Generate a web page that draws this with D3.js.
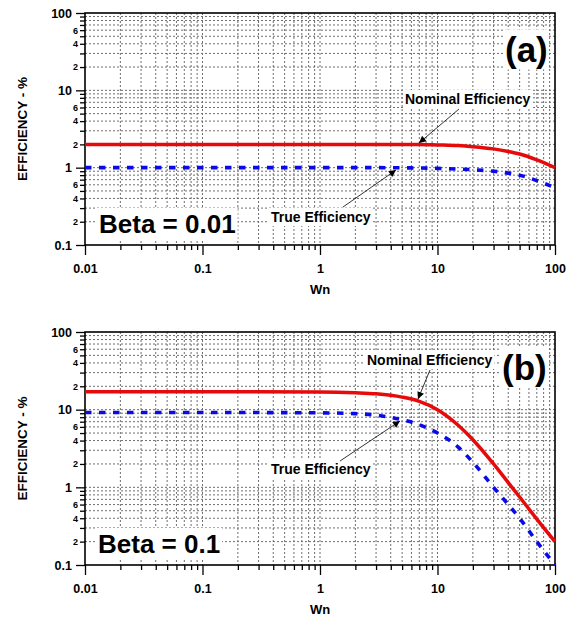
<!DOCTYPE html>
<html>
<head>
<meta charset="utf-8">
<script src="https://cdn.jsdelivr.net/npm/d3@7"></script>
<style>
  html, body { margin: 0; padding: 0; background: #fff; }
  svg { display: block; font-family: "Liberation Sans", Arial, sans-serif; }
</style>
</head>
<body>
<svg id="chart" width="578" height="620"></svg>
<script>
// Shared frequency grid (Wn)
const wn = [0.01, 0.1, 1, 2, 3, 5, 7, 10, 15, 20, 30, 40, 50, 70, 100];

// Panel (a): Beta = 0.01
const nominalA = [2.0, 2.0, 2.0, 2.0, 2.0, 2.0, 2.0, 1.97, 1.93, 1.87, 1.75, 1.62, 1.5, 1.26, 1.0];
const trueA    = [1.0, 1.0, 1.0, 1.0, 1.0, 0.995, 0.99, 0.98, 0.96, 0.94, 0.9, 0.85, 0.8, 0.68, 0.55];

// Panel (b): Beta = 0.1
const nominalB = [17.0, 17.0, 16.9, 16.5, 16.0, 14.5, 12.8, 10.0, 6.3, 4.1, 2.0, 1.15, 0.75, 0.39, 0.2];
const trueB    = [9.2, 9.2, 9.1, 8.9, 8.5, 7.4, 6.4, 5.0, 3.3, 2.1, 1.0, 0.6, 0.4, 0.2, 0.1];

// Axis ticks
const xMajor = [0.01, 0.1, 1, 10, 100];
const xMajorLabels = ["0.01", "0.1", "1", "10", "100"];
const yMajor = [0.1, 1, 10, 100];
const yMajorLabels = ["0.1", "1", "10", "100"];
const minorSteps = [2, 3, 4, 5, 6, 7, 8, 9];
const labelledMinor = [2, 4, 6];

const panelLetters = ["(a)", "(b)"];
const betaLabels = ["Beta = 0.01", "Beta = 0.1"];
const xTitle = "Wn";
const yTitle = "EFFICIENCY - %";
const nominalText = "Nominal Efficiency";
const trueText = "True Efficiency";

const svg = d3.select("#chart");

const defs = svg.append("defs");
defs.append("marker")
  .attr("id", "arrowhead")
  .attr("viewBox", "0 0 10 10")
  .attr("refX", 10).attr("refY", 5)
  .attr("markerUnits", "userSpaceOnUse")
  .attr("markerWidth", 9).attr("markerHeight", 7)
  .attr("orient", "auto")
  .append("path")
  .attr("d", "M0,0 L10,5 L0,10 Z")
  .attr("fill", "#000");

const left = 85, right = 555;

const panels = [
  {
    top: 13, bottom: 245, nominal: nominalA, trueVals: trueA,
    letter: panelLetters[0], beta: betaLabels[0],
    nomLabel: { x: 405, y: 104 }, nomArrow: [[459, 109], [419, 143]],
    trueLabel: { x: 271, y: 222 }, trueArrow: [[343, 207], [396, 170]],
    betaPos: { x: 99, y: 233 }, letterPos: { x: 505, y: 62 }
  },
  {
    top: 332, bottom: 565, nominal: nominalB, trueVals: trueB,
    letter: panelLetters[1], beta: betaLabels[1],
    nomLabel: { x: 367, y: 365 }, nomArrow: [[430, 370], [418, 399]],
    trueLabel: { x: 271, y: 474 }, trueArrow: [[340, 461], [400, 421]],
    betaPos: { x: 98, y: 553 }, letterPos: { x: 502, y: 380 }
  }
];

function minorValues(lo, hi) {
  const out = [];
  for (let d = lo; d < hi; d *= 10) {
    minorSteps.forEach(s => out.push(+(s * d).toPrecision(3)));
  }
  return out;
}

const xMinor = minorValues(0.01, 100);
const yMinor = minorValues(0.1, 100);

function labelWithBackground(g, x, y, text, size, pad) {
  const grp = g.append("g");
  const rect = grp.append("rect").attr("fill", "#fff");
  const t = grp.append("text")
    .attr("x", x).attr("y", y)
    .attr("font-size", size).attr("font-weight", "bold")
    .attr("fill", "#000")
    .text(text);
  const bb = t.node().getBBox();
  rect.attr("x", bb.x - pad).attr("y", bb.y - pad * 0.5)
    .attr("width", bb.width + pad * 2).attr("height", bb.height + pad);
  return grp;
}

panels.forEach(p => {
  const x = d3.scaleLog().domain([0.01, 100]).range([left, right]);
  const y = d3.scaleLog().domain([0.1, 100]).range([p.bottom, p.top]);
  const g = svg.append("g");

  // Dotted grid at every major and minor decade step
  const grid = g.append("g").attr("stroke", "#6e6e6e").attr("stroke-width", 1)
    .attr("stroke-dasharray", "2,2").attr("fill", "none");
  xMinor.concat(xMajor.slice(1, -1)).forEach(v => {
    grid.append("line").attr("x1", x(v)).attr("x2", x(v))
      .attr("y1", p.top).attr("y2", p.bottom);
  });
  yMinor.concat(yMajor.slice(1, -1)).forEach(v => {
    grid.append("line").attr("x1", left).attr("x2", right)
      .attr("y1", y(v)).attr("y2", y(v));
  });

  // Bottom axis: long major ticks with labels, short minor ticks
  const xMajAxis = d3.axisBottom(x).tickValues(xMajor)
    .tickFormat((d, i) => xMajorLabels[i]).tickSize(10).tickPadding(9);
  const xMinAxis = d3.axisBottom(x).tickValues(xMinor)
    .tickFormat("").tickSize(5);
  [xMinAxis, xMajAxis].forEach(ax => {
    const a = g.append("g").attr("transform", `translate(0,${p.bottom})`).call(ax);
    a.select(".domain").remove();
    a.selectAll("line").attr("stroke", "#000").attr("stroke-width", 1.3);
    a.selectAll("text").attr("font-size", 12.5).attr("font-weight", "bold")
      .attr("fill", "#000").attr("font-family", "'Liberation Sans', Arial, sans-serif");
  });

  // Left axis: major ticks with labels, minor ticks labelled at 2, 4, 6
  const yMajAxis = d3.axisLeft(y).tickValues(yMajor)
    .tickFormat((d, i) => yMajorLabels[i]).tickSize(9).tickPadding(4);
  const yMinAxis = d3.axisLeft(y).tickValues(yMinor)
    .tickFormat(d => {
      const lead = Math.round(d / Math.pow(10, Math.floor(Math.log10(d) + 1e-9)));
      return labelledMinor.includes(lead) ? String(lead) : "";
    }).tickSize(5).tickPadding(2);
  const ymin = g.append("g").attr("transform", `translate(${left},0)`).call(yMinAxis);
  ymin.select(".domain").remove();
  ymin.selectAll("line").attr("stroke", "#000").attr("stroke-width", 1.3);
  ymin.selectAll("text").attr("font-size", 9).attr("font-weight", "bold")
    .attr("fill", "#000").attr("font-family", "'Liberation Sans', Arial, sans-serif");
  const ymaj = g.append("g").attr("transform", `translate(${left},0)`).call(yMajAxis);
  ymaj.select(".domain").remove();
  ymaj.selectAll("line").attr("stroke", "#000").attr("stroke-width", 1.3);
  ymaj.selectAll("text").attr("font-size", 12.5).attr("font-weight", "bold")
    .attr("fill", "#000").attr("font-family", "'Liberation Sans', Arial, sans-serif");

  // Plot frame
  g.append("rect").attr("x", left).attr("y", p.top)
    .attr("width", right - left).attr("height", p.bottom - p.top)
    .attr("fill", "none").attr("stroke", "#000").attr("stroke-width", 1.6);

  // Curves
  const line = d3.line().x(d => x(d[0])).y(d => y(d[1])).curve(d3.curveMonotoneX);
  g.append("path").datum(wn.map((w, i) => [w, p.nominal[i]]))
    .attr("d", line).attr("fill", "none")
    .attr("stroke", "#e60a0a").attr("stroke-width", 3.5);
  g.append("path").datum(wn.map((w, i) => [w, p.trueVals[i]]))
    .attr("d", line).attr("fill", "none")
    .attr("stroke", "#0a0ae6").attr("stroke-width", 3.6)
    .attr("stroke-dasharray", "6.5,7.5");

  // Annotations
  labelWithBackground(g, p.nomLabel.x, p.nomLabel.y, nominalText, 14, 2);
  labelWithBackground(g, p.trueLabel.x, p.trueLabel.y, trueText, 14, 2);
  [p.nomArrow, p.trueArrow].forEach(a => {
    g.append("line").attr("x1", a[0][0]).attr("y1", a[0][1])
      .attr("x2", a[1][0]).attr("y2", a[1][1])
      .attr("stroke", "#000").attr("stroke-width", 0.8)
      .attr("marker-end", "url(#arrowhead)");
  });
  labelWithBackground(g, p.betaPos.x, p.betaPos.y, p.beta, 26, 2);
  labelWithBackground(g, p.letterPos.x, p.letterPos.y, p.letter, 35, 1);

  // Axis titles
  g.append("text").attr("x", (left + right) / 2).attr("y", p.bottom + 49)
    .attr("text-anchor", "middle").attr("font-size", 13).attr("font-weight", "bold")
    .text(xTitle);
  g.append("text")
    .attr("transform", `translate(27,${(p.top + p.bottom) / 2}) rotate(-90)`)
    .attr("text-anchor", "middle").attr("font-size", 13.5).attr("font-weight", "bold")
    .text(yTitle);
});
</script>
</body>
</html>
